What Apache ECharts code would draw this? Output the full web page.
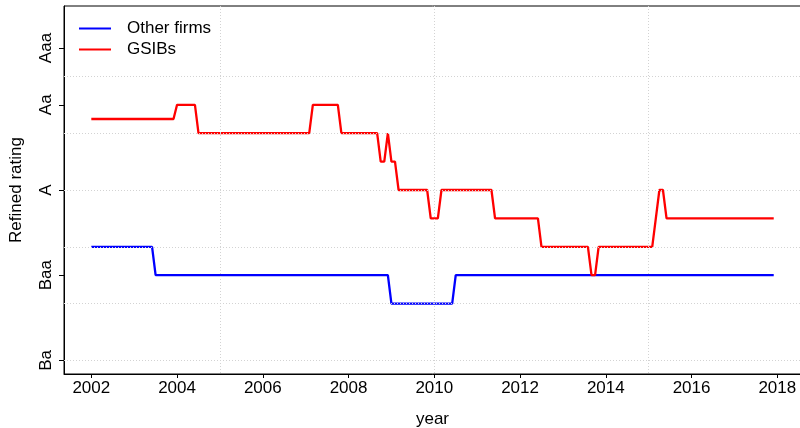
<!DOCTYPE html>
<html>
<head>
<meta charset="utf-8">
<title>Refined rating: GSIBs vs other firms</title>
<script src="https://cdn.jsdelivr.net/npm/echarts@6/dist/echarts.min.js"></script>
<style>
  html, body { margin: 0; padding: 0; background: #fff; }
  #chart { width: 800px; height: 428px; }
</style>
</head>
<body>
<div id="chart"></div>
<script>
// Rating scale: 1 = Aaa, 2..4 = Aa1..Aa3, 5..7 = A1..A3, 8..10 = Baa1..Baa3, 11..12 = Ba1..Ba2
const ratingTickValues = [1, 3, 6, 9, 12];
const ratingTickLabels = ['Aaa', 'Aa', 'A', 'Baa', 'Ba'];
const ratingGridValues = [2, 4, 6, 8, 10, 12];

const yearTicks = [2002, 2004, 2006, 2008, 2010, 2012, 2014, 2016, 2018];
const yearGridValues = [2005, 2010, 2015];

// Monthly series, given at the months where the rating changes
const otherYears  = [2002.0, 2003.417, 2003.5, 2008.917, 2009.0, 2010.417, 2010.5, 2017.917];
const otherRating = [8, 8, 9, 9, 10, 10, 9, 9];

const gsibYears = [
  2002.0, 2003.917, 2004.0, 2004.417, 2004.5, 2007.083, 2007.167, 2007.75, 2007.833,
  2008.667, 2008.75, 2008.833, 2008.917, 2009.0, 2009.083, 2009.167, 2009.833, 2009.917,
  2010.083, 2010.167, 2011.333, 2011.417, 2012.417, 2012.5, 2013.583, 2013.667, 2013.75,
  2013.833, 2015.083, 2015.167, 2015.25, 2015.333, 2015.417, 2017.917
];
const gsibRating = [
  3.5, 3.5, 3, 3, 4, 4, 3, 3, 4,
  4, 5, 5, 4, 5, 5, 6, 6, 7,
  7, 6, 6, 7, 7, 8, 8, 9, 9,
  8, 8, 7, 6, 6, 7, 7
];

const pairs = (xs, ys) => xs.map((x, i) => [x, ys[i]]);

const FONT = '"Liberation Sans", Arial, Helvetica, sans-serif';
const TXT = '#000';

const chart = echarts.init(document.getElementById('chart'), null, { renderer: 'canvas' });

chart.setOption({
  animation: false,
  backgroundColor: '#fff',
  textStyle: { fontFamily: FONT, color: TXT },
  grid: {
    left: 64, top: 6, right: -1, bottom: 54,
    outerBoundsMode: 'none', containLabel: false,
    show: true, borderColor: '#000', borderWidth: 1, backgroundColor: 'transparent'
  },
  legend: {
    orient: 'vertical',
    left: 79, top: 20, padding: 0,
    itemWidth: 32, itemHeight: 12, itemGap: 4,
    icon: 'path://M0,5 L32,5 L32,7 L0,7 Z',
    textStyle: { fontFamily: FONT, fontSize: 17, color: TXT, padding: [0, 0, 0, 11] },
    data: ['Other firms', 'GSIBs']
  },
  xAxis: {
    type: 'value',
    min: 2001.363, max: 2018.553,
    name: 'year', nameLocation: 'middle', nameGap: 37,
    nameTextStyle: { fontFamily: FONT, fontSize: 17, color: TXT },
    axisLine: { show: true, onZero: false, lineStyle: { color: '#000', width: 1 } },
    axisTick: { show: true, length: 4, inside: false, customValues: yearTicks, lineStyle: { color: '#000' } },
    axisLabel: { show: true, customValues: yearTicks, margin: 6, fontFamily: FONT, fontSize: 17, color: TXT,
                 formatter: v => String(Math.round(v)) },
    splitLine: { show: false }
  },
  yAxis: {
    type: 'value',
    inverse: true,
    min: -0.48, max: 12.48,
    name: 'Refined rating', nameLocation: 'middle', nameGap: 39, nameRotate: 90,
    nameTextStyle: { fontFamily: FONT, fontSize: 17, color: TXT },
    axisLine: { show: true, onZero: false, lineStyle: { color: '#000', width: 1 } },
    axisTick: { show: true, length: 5, inside: false, customValues: ratingTickValues, lineStyle: { color: '#000' } },
    axisLabel: {
      show: true, customValues: ratingTickValues, rotate: 90, margin: 9,
      fontFamily: FONT, fontSize: 17, color: TXT,
      formatter: v => ratingTickLabels[ratingTickValues.indexOf(Math.round(v))] || ''
    },
    splitLine: { show: false }
  },
  series: [
    {
      name: 'Other firms', type: 'line', data: pairs(otherYears, otherRating),
      symbol: 'none', showSymbol: false, z: 2,
      lineStyle: { color: '#0000ff', width: 2.3 }, itemStyle: { color: '#0000ff' }
    },
    {
      name: 'GSIBs', type: 'line', data: pairs(gsibYears, gsibRating),
      symbol: 'none', showSymbol: false, z: 2,
      lineStyle: { color: '#ff0000', width: 2.3 }, itemStyle: { color: '#ff0000' }
    },
    {
      // dotted reference grid drawn over the data lines
      name: 'grid', type: 'line', data: [], z: 3, silent: true,
      markLine: {
        silent: true, symbol: ['none', 'none'], animation: false,
        label: { show: false },
        lineStyle: { color: '#d3d3d3', type: [1, 2], width: 1 },
        emphasis: { disabled: true },
        data: ratingGridValues.map(v => ({ yAxis: v }))
          .concat(yearGridValues.map(v => ({ xAxis: v })))
      }
    }
  ]
});
</script>
</body>
</html>
